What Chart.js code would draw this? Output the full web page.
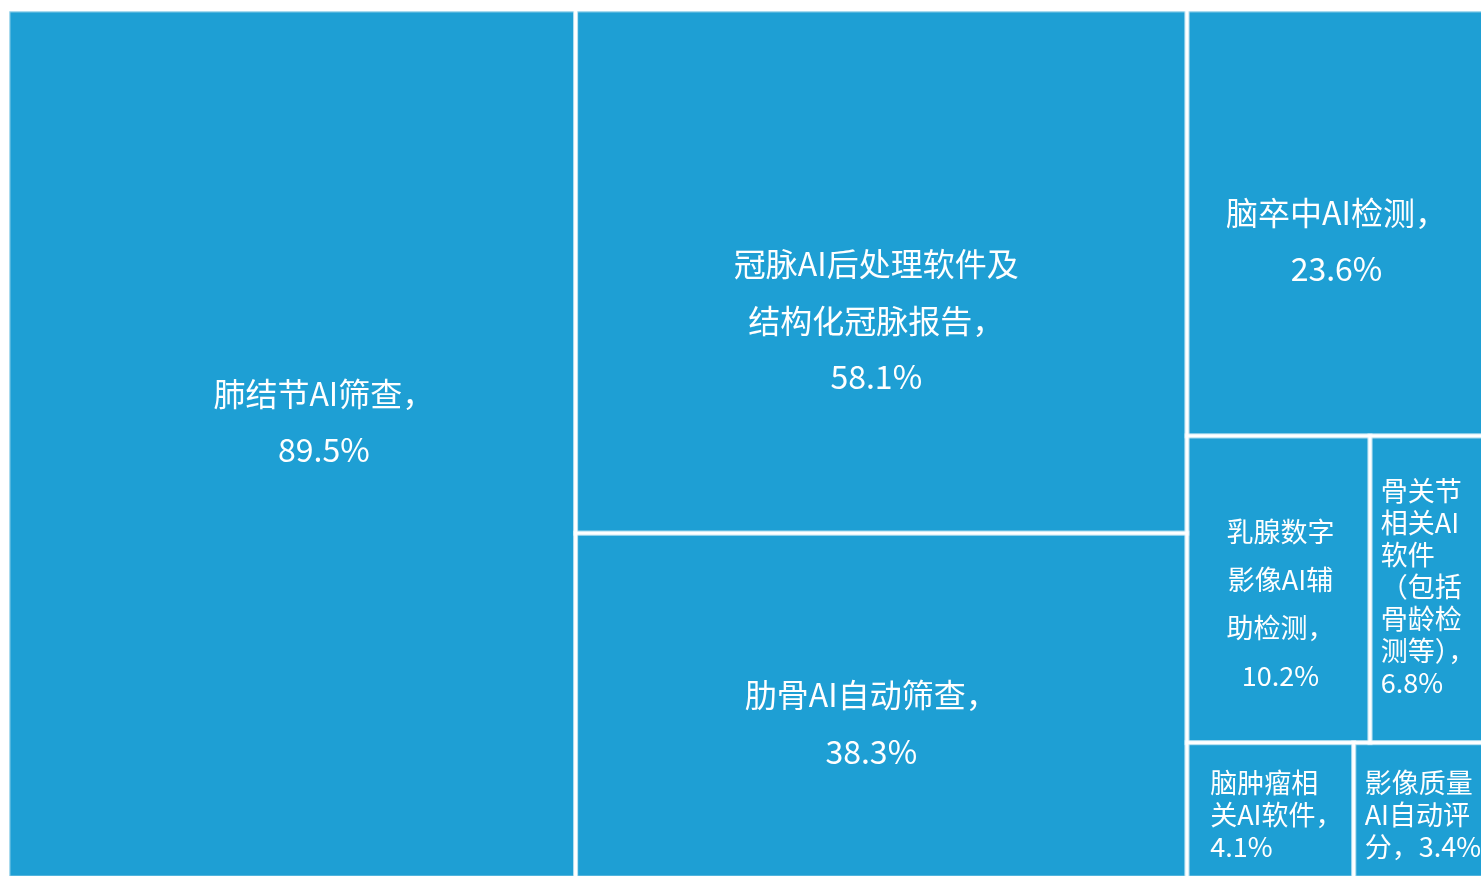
<!DOCTYPE html>
<html>
<head>
<meta charset="utf-8">
<style>
html,body{margin:0;padding:0;background:#ffffff;overflow:hidden}
#wrap{width:1481px;height:876px;position:relative}
</style>
<script src="https://cdn.jsdelivr.net/npm/chart.js@4.4.1/dist/chart.umd.min.js"></script>
</head>
<body>
<div id="wrap"><canvas id="c"></canvas></div>
<script>
// ---- data ----
const categories = [
  '肺结节AI筛查',
  '冠脉AI后处理软件及结构化冠脉报告',
  '肋骨AI自动筛查',
  '脑卒中AI检测',
  '乳腺数字影像AI辅助检测',
  '骨关节相关AI软件（包括骨龄检测等）',
  '脑肿瘤相关AI软件',
  '影像质量AI自动评分'
];
const values = [89.5, 58.1, 38.3, 23.6, 10.2, 6.8, 4.1, 3.4];
const valueSuffix = '%';

// ---- layout / style config ----
const TREE_W = 1484, TREE_H = 868;      // treemap domain (units)
const VIEW_W = 1473, VIEW_H = 866;      // visible part of the domain
const SQUARIFY_RATIO = 1.28;
const CELL_COLOR = '#1e9fd4';
const FONT = '"Noto Sans CJK SC", "Microsoft YaHei", sans-serif';
// small label nudges (px) per cell, style only
const LABEL_NUDGE = [[32, -22], [-5, 49], [-10, 18], [-3, 18], [2, 14], [-3, -3], [6, 4], [0, 4]];

// squarified treemap (d3-style)
function squarify(vals, X0, Y0, X1, Y1, ratio) {
  const nodes = vals.map((v, i) => ({ i, v })).sort((a, b) => b.v - a.v);
  let value = vals.reduce((a, b) => a + b, 0);
  const out = [];
  let i0 = 0, i1 = 0, n = nodes.length, x0 = X0, y0 = Y0, x1 = X1, y1 = Y1;
  while (i0 < n) {
    const dx = x1 - x0, dy = y1 - y0;
    let sum = nodes[i1++].v, minV = sum, maxV = sum;
    const alpha = Math.max(dy / dx, dx / dy) / (value * ratio);
    let beta = sum * sum * alpha;
    let minRatio = Math.max(maxV / beta, beta / minV);
    for (; i1 < n; ++i1) {
      const nv = nodes[i1].v; sum += nv;
      const mn = Math.min(minV, nv), mx = Math.max(maxV, nv);
      beta = sum * sum * alpha;
      const nr = Math.max(mx / beta, beta / mn);
      if (nr > minRatio) { sum -= nv; break; }
      minV = mn; maxV = mx; minRatio = nr;
    }
    const row = nodes.slice(i0, i1);
    if (dx < dy) {
      const yb = i1 < n ? y0 + dy * sum / value : y1;
      let x = x0;
      row.forEach(nd => { const w = (x1 - x0) * nd.v / sum; out[nd.i] = { x, y: y0, w, h: yb - y0 }; x += w; });
      y0 = yb;
    } else {
      const xb = i1 < n ? x0 + dx * sum / value : x1;
      let y = y0;
      row.forEach(nd => { const h = (y1 - y0) * nd.v / sum; out[nd.i] = { x: x0, y, w: xb - x0, h }; y += h; });
      x0 = xb;
    }
    value -= sum; i0 = i1;
  }
  return out;
}

const cells = squarify(values, 0, 0, TREE_W, TREE_H, SQUARIFY_RATIO);

// text wrapping with simple CJK line-break rules
const NO_START = '，,。）)、：；！？%';
const NO_END = '（(';
function tokenize(s) {
  const t = []; const re = /[A-Za-z0-9.%]+|./gu; let m;
  while ((m = re.exec(s))) t.push(m[0]);
  return t;
}
function wrap(ctx, text, maxW) {
  const toks = tokenize(text); const lines = []; let line = '';
  for (const t of toks) {
    if (line === '') { line = t; continue; }
    if (ctx.measureText(line + t).width <= maxW) { line += t; continue; }
    if (NO_START.includes(t[0])) { line += t; continue; }
    const last = line[line.length - 1];
    if (NO_END.includes(last) && line.length > 1) { lines.push(line.slice(0, -1)); line = last + t; continue; }
    lines.push(line); line = t;
  }
  if (line) lines.push(line);
  return lines;
}

const treemapPlugin = {
  id: 'treemapCells',
  afterDatasetsDraw(chart) {
    const ctx = chart.ctx, xs = chart.scales.x, ys = chart.scales.y;
    const px = cells.map(c => {
      const x0 = xs.getPixelForValue(c.x), x1 = xs.getPixelForValue(c.x + c.w);
      const y0 = ys.getPixelForValue(c.y), y1 = ys.getPixelForValue(c.y + c.h);
      return { x0, y0, x1, y1, w: x1 - x0, h: y1 - y0 };
    });
    ctx.save();
    px.forEach(r => { ctx.fillStyle = CELL_COLOR; ctx.fillRect(r.x0, r.y0, r.w, r.h); });
    px.forEach(r => {
      ctx.strokeStyle = 'rgba(255,255,255,0.45)'; ctx.lineWidth = 5; ctx.strokeRect(r.x0, r.y0, r.w, r.h);
      ctx.strokeStyle = '#ffffff'; ctx.lineWidth = 2.6; ctx.strokeRect(r.x0, r.y0, r.w, r.h);
    });
    // labels
    ctx.fillStyle = '#ffffff';
    ctx.textBaseline = 'middle';
    px.forEach((r, i) => {
      const big = r.w >= 250;
      const fs = big ? 32 : 27;
      const maxW = big ? 290 : Math.min(r.w - 20, 125);
      ctx.font = fs + 'px ' + FONT;
      const text = categories[i] + '，' + values[i] + valueSuffix;
      const lines = wrap(ctx, text, maxW);
      const looseLH = big ? 56.5 : 48;
      const tightLH = 32;
      const loose = lines.length * looseLH <= r.h - 20;
      const lh = loose ? looseLH : tightLH;
      const nd = LABEL_NUDGE[i] || [0, 0];
      const cx = r.x0 + r.w / 2 + nd[0], cy = r.y0 + r.h / 2 + nd[1];
      const top = cy - (lines.length - 1) / 2 * lh;
      if (loose) {
        ctx.textAlign = 'center';
        lines.forEach((l, k) => ctx.fillText(l, cx, top + k * lh));
      } else {
        const bw = Math.max(...lines.map(l => ctx.measureText(l).width));
        const bx = cx - bw / 2;
        ctx.textAlign = 'left';
        lines.forEach((l, k) => ctx.fillText(l, bx, top + k * lh));
      }
    });
    ctx.restore();
  }
};

new Chart(document.getElementById('c'), {
  type: 'scatter',
  data: {
    datasets: [{
      label: 'treemap',
      data: cells.map((c, i) => ({ x: c.x + c.w / 2, y: c.y + c.h / 2, v: values[i] })),
      pointRadius: 0,
      pointHoverRadius: 0
    }]
  },
  options: {
    responsive: true,
    maintainAspectRatio: false,
    animation: false,
    layout: { padding: { left: 8, top: 10, right: 0, bottom: 0 } },
    scales: {
      x: { type: 'linear', display: false, min: 0, max: VIEW_W },
      y: { type: 'linear', display: false, reverse: true, min: 0, max: VIEW_H }
    },
    plugins: { legend: { display: false }, tooltip: { enabled: false } }
  },
  plugins: [treemapPlugin]
});
</script>
</body>
</html>
